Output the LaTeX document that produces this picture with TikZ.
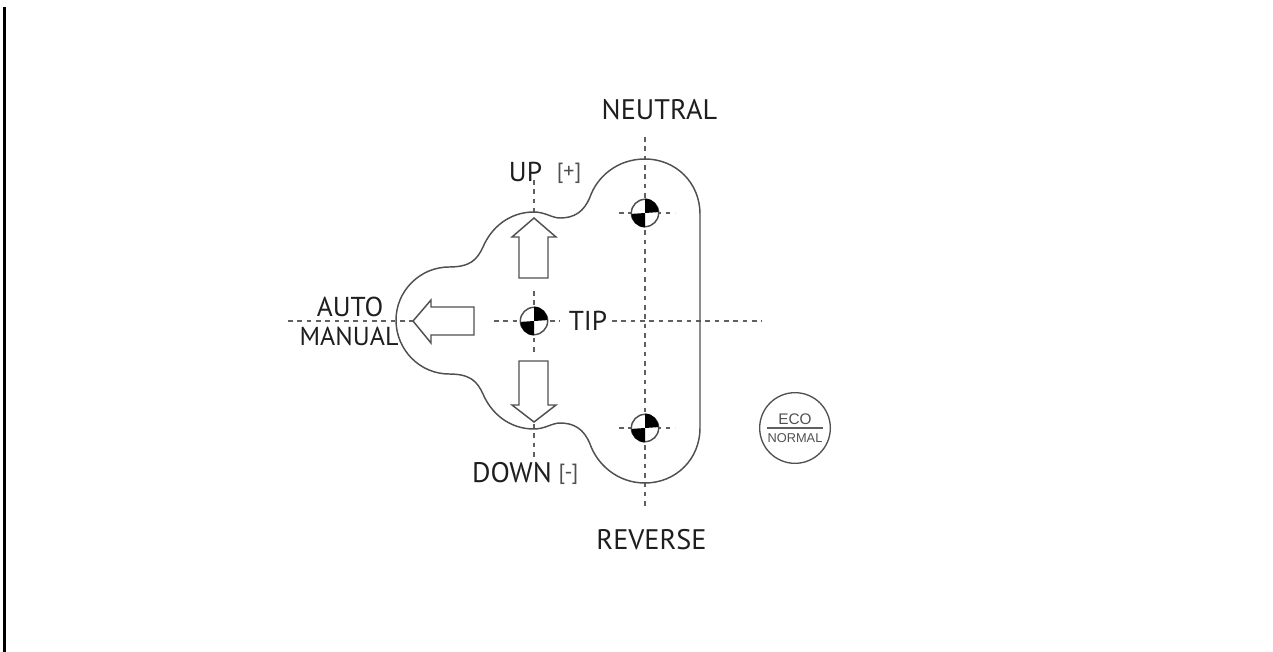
\documentclass[tikz,border=0pt]{standalone}
\usepackage{fontspec}
\setmainfont{PT Sans}
\newfontfamily\ecofont{Liberation Sans}
\usepackage{xcolor}
\usetikzlibrary{positioning}
\definecolor{ink}{HTML}{1E1E1E}
\definecolor{outline}{HTML}{505050}
\definecolor{guide}{HTML}{606060}

\begin{document}
\begin{tikzpicture}[
  x=0.75pt, y=-0.75pt,
  lab/.style={text=ink, inner sep=0pt, font=\fontsize{20.5}{23}\selectfont},
  biglab/.style={text=ink, inner sep=0pt, font=\fontsize{21.2}{24}\selectfont},
  smalllab/.style={text=outline, inner sep=0pt, font=\fontsize{16.5}{18}\selectfont},
  ecolab/.style={text=outline, inner sep=0pt, font=\ecofont\fontsize{9.6}{11}\selectfont},
  gateline/.style={draw=outline, line width=1.1pt},
  shiftarrow/.style={draw=outline, line width=1.1pt, fill=white},
  guideline/.style={draw=guide, line width=1pt, dash pattern=on 3.6pt off 3.4pt},
  markpoint/.style={circle, draw=outline, line width=1.1pt, fill=white, minimum size=20.5pt, inner sep=0pt}
]
  \useasboundingbox (0,0) rectangle (1273,652);
  \coordinate (barTop) at (4.5,7);
  \coordinate (barEnd) at (4.5,652);
  \draw[line width=2.2pt, black] (barTop) -- (barEnd);

  % guide ends
  \coordinate (neutralTop) at (645,137);
  \coordinate (reverseEnd) at (645,507);
  \coordinate (upTop) at (534,180);
  \coordinate (upEnd) at (534,216);
  \coordinate (tipTop) at (534,291);
  \coordinate (tipBottom) at (534,353);
  \coordinate (downTop) at (534,424);
  \coordinate (downEnd) at (534,457);
  \coordinate (axisLeft) at (288,321);
  \coordinate (axisMid) at (413,321);
  \coordinate (tipLeft) at (494,321);
  \coordinate (tipRight) at (560,321);
  \coordinate (axisGap) at (612,321);
  \coordinate (axisRight) at (762,321);
  \coordinate (neutralLeft) at (619,213);
  \coordinate (neutralRight) at (675,213);
  \coordinate (reverseLeft) at (619,428);
  \coordinate (reverseRight) at (675,428);
  \coordinate (ecoLeft) at (767,428);
  \coordinate (ecoRight) at (823,428);

  \draw[guideline] (neutralTop) -- (reverseEnd);
  \draw[guideline] (upTop) -- (upEnd);
  \draw[guideline] (tipTop) -- (tipBottom);
  \draw[guideline] (downTop) -- (downEnd);
  \draw[guideline] (axisLeft) -- (axisMid);
  \draw[guideline] (tipLeft) -- (tipRight);
  \draw[guideline] (axisGap) -- (axisRight);
  \draw[guideline] (neutralLeft) -- (neutralRight);
  \draw[guideline] (reverseLeft) -- (reverseRight);

  % gate outline
  \draw[gateline] (700,428) -- (700,214)
    .. controls (700,183) and (676,159) .. (645,159)
    .. controls (617,159) and (597,177) .. (590,197)
    .. controls (584,212) and (574,218) .. (560,218)
    .. controls (552,218) and (545,212) .. (534,212)
    .. controls (509,212) and (491,228) .. (483,247)
    .. controls (477,260) and (470,267) .. (449,267)
    .. controls (420,267) and (396,291) .. (396,320)
    .. controls (396,350) and (420,374) .. (449,374)
    .. controls (470,374) and (477,381) .. (483,394)
    .. controls (491,413) and (509,429) .. (534,429)
    .. controls (545,429) and (552,423) .. (560,423)
    .. controls (574,423) and (584,429) .. (590,444)
    .. controls (597,464) and (617,483) .. (645,483)
    .. controls (676,483) and (700,459) .. (700,428);

  % shift arrows
  \draw[shiftarrow] (534,218) -- (556,237) -- (548,237) -- (548,278) -- (519,278) -- (519,237) -- (512,237) -- cycle;
  \draw[shiftarrow] (534,422) -- (556,405) -- (548,405) -- (548,361) -- (519,361) -- (519,405) -- (512,405) -- cycle;
  \draw[shiftarrow] (413,321) -- (431,300) -- (431,307) -- (474,307) -- (474,335) -- (431,335) -- (431,343) -- cycle;

  % shift points
  \foreach \name/\px/\py in {neutral/645/213, tip/534/321, reverse/645/428} {
    \node[markpoint] (\name) at (\px,\py) {};
    \fill[black] (\name.center) -- (\name.north) arc (-90:0:13.5) -- cycle;
    \fill[black] (\name.center) -- (\name.south) arc (90:180:13.5) -- cycle;
  }

  \node[biglab] (neutrallab) at (659.5,110) {NEUTRAL};
  \node[lab] (uplab) at (525.5,172) {UP};
  \node[smalllab] (pluslab) at (569,173) {[+]};
  \node[lab] (tiplab) at (588,321) {TIP};
  \node[lab] (autolab) at (350,307) {AUTO};
  \node[lab, font=\fontsize{19.5}{22}\selectfont] (manuallab) at (349,336) {MANUAL};
  \node[biglab] (downlab) at (512,473) {DOWN};
  \node[smalllab] (minuslab) at (568.5,474) {[-]};
  \node[biglab] (reverselab) at (651.5,540) {REVERSE};

  % mode switch
  \node[circle, draw=outline, line width=1pt, minimum size=53pt, inner sep=0pt] (ecoswitch) at (795,428) {};
  \node[ecolab, font=\ecofont\fontsize{11.5}{13}\selectfont] (ecotext) at (795,419) {ECO};
  \node[ecolab] (normaltext) at (795,438) {NORMAL};
  \draw[draw=guide, line width=0.9pt] (ecoLeft) -- (ecoRight);
\end{tikzpicture}
\end{document}
